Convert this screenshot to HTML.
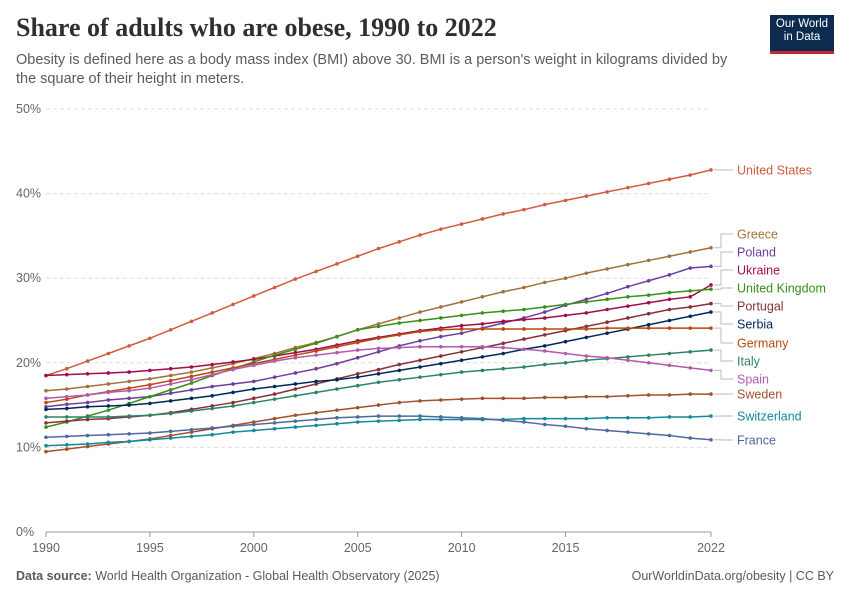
<!DOCTYPE html>
<html><head><meta charset="utf-8">
<style>
body{margin:0;background:#fff;font-family:"Liberation Sans",sans-serif;}
#wrap{position:relative;width:850px;height:600px;overflow:hidden;}
.title{position:absolute;left:16px;top:13px;font-family:"Liberation Serif",serif;font-size:26px;color:#2f2f2f;font-weight:600;}
.sub{position:absolute;left:16px;top:51px;font-size:14.5px;line-height:19px;color:#5b5b5b;width:725px;}
.logo{position:absolute;left:770px;top:15px;width:64px;background:#0d2a4f;border-bottom:3px solid #c0282e;color:#fff;font-size:11.5px;line-height:13px;text-align:center;padding-top:3px;height:33px;}
.foot{position:absolute;top:569px;font-size:12.5px;color:#5b5b5b;}
</style></head><body>
<div id="wrap">
<div class="title">Share of adults who are obese, 1990 to 2022</div>
<div class="sub">Obesity is defined here as a body mass index (BMI) above 30. BMI is a person's weight in kilograms divided by the square of their height in meters.</div>
<div class="logo">Our World<br>in Data</div>
<svg id="chart" width="850" height="600" style="position:absolute;left:0;top:0"></svg>
<div class="foot" style="left:16px"><b>Data source:</b> World Health Organization - Global Health Observatory (2025)</div>
<div class="foot" style="right:16px">OurWorldinData.org/obesity | CC BY</div>
</div>
<script>
const years=[];for(let y=1990;y<=2022;y++)years.push(y);
const yTicks=[0,10,20,30,40,50];
const xTicks=[1990,1995,2000,2005,2010,2015,2022];
const countries=["United States","Greece","Poland","Ukraine","United Kingdom","Portugal","Serbia","Germany","Italy","Spain","Sweden","Switzerland","France"];
const colors=["#d15a3f","#a2723d","#6e3e9e","#a10c4d","#3a8f18","#883039","#00295b","#b8480d","#2c8465","#b15ab0","#a0522d","#138a9b","#51689e"];
const usa=[18.5,19.3,20.2,21.1,22.0,22.9,23.9,24.9,25.9,26.9,27.9,28.9,29.9,30.8,31.7,32.6,33.5,34.3,35.1,35.8,36.4,37.0,37.6,38.1,38.7,39.2,39.7,40.2,40.7,41.2,41.7,42.2,42.8];
const greece=[16.7,16.9,17.2,17.5,17.8,18.1,18.5,18.9,19.4,19.9,20.5,21.1,21.8,22.4,23.1,23.9,24.6,25.3,26.0,26.6,27.2,27.8,28.4,28.9,29.5,30.0,30.6,31.1,31.6,32.1,32.6,33.1,33.6];
const poland=[14.8,15.1,15.3,15.6,15.8,16.0,16.4,16.8,17.2,17.5,17.8,18.3,18.8,19.3,19.9,20.6,21.3,22.0,22.6,23.1,23.5,24.1,24.7,25.3,26.0,26.8,27.5,28.2,29.0,29.7,30.4,31.2,31.4];
const ukraine=[18.5,18.6,18.7,18.8,18.9,19.1,19.3,19.5,19.8,20.1,20.4,20.8,21.2,21.6,22.1,22.6,23.0,23.4,23.8,24.1,24.4,24.6,24.9,25.1,25.3,25.6,25.9,26.3,26.7,27.1,27.5,27.8,29.2];
const uk=[12.4,13.0,13.7,14.4,15.2,16.0,16.8,17.6,18.5,19.3,20.1,20.9,21.6,22.3,23.1,23.9,24.3,24.7,25.0,25.3,25.6,25.9,26.1,26.3,26.6,26.9,27.2,27.5,27.8,28.0,28.3,28.5,28.7];
const portugal=[12.9,13.1,13.3,13.4,13.6,13.8,14.1,14.5,14.9,15.3,15.8,16.3,16.9,17.5,18.1,18.7,19.2,19.8,20.3,20.8,21.3,21.8,22.3,22.8,23.3,23.8,24.3,24.8,25.3,25.8,26.3,26.6,27.0];
const serbia=[14.5,14.6,14.8,14.9,15.0,15.2,15.5,15.8,16.1,16.5,16.9,17.2,17.5,17.8,18.0,18.3,18.7,19.1,19.5,19.9,20.3,20.7,21.1,21.6,22.0,22.5,23.0,23.5,24.0,24.5,25.0,25.5,26.0];
const germany=[15.3,15.7,16.2,16.6,17.0,17.4,17.9,18.4,18.9,19.4,19.9,20.4,20.9,21.4,21.9,22.4,22.9,23.3,23.7,23.9,24.0,24.0,24.0,24.0,24.0,24.0,24.0,24.1,24.1,24.1,24.1,24.1,24.1];
const italy=[13.6,13.6,13.6,13.6,13.7,13.8,14.0,14.3,14.6,14.9,15.3,15.7,16.1,16.5,16.9,17.3,17.7,18.0,18.3,18.6,18.9,19.1,19.3,19.5,19.8,20.0,20.3,20.5,20.7,20.9,21.1,21.3,21.5];
const spain=[15.8,16.0,16.2,16.5,16.7,17.0,17.5,18.0,18.6,19.2,19.7,20.2,20.6,20.9,21.2,21.5,21.7,21.8,21.9,21.9,21.9,21.9,21.8,21.6,21.4,21.1,20.8,20.6,20.3,20.0,19.7,19.4,19.1];
const sweden=[9.5,9.8,10.1,10.4,10.7,11.0,11.4,11.8,12.2,12.6,13.0,13.4,13.8,14.1,14.4,14.7,15.0,15.3,15.5,15.6,15.7,15.8,15.8,15.8,15.9,15.9,16.0,16.0,16.1,16.2,16.2,16.3,16.3];
const switzerland=[10.2,10.3,10.4,10.6,10.7,10.9,11.1,11.3,11.5,11.8,12.0,12.2,12.4,12.6,12.8,13.0,13.1,13.2,13.3,13.3,13.3,13.3,13.3,13.4,13.4,13.4,13.4,13.5,13.5,13.5,13.6,13.6,13.7];
const france=[11.2,11.3,11.4,11.5,11.6,11.7,11.9,12.1,12.3,12.5,12.7,12.9,13.1,13.3,13.5,13.6,13.7,13.7,13.7,13.6,13.5,13.4,13.2,13.0,12.7,12.5,12.2,12.0,11.8,11.6,11.4,11.1,10.9];
const series=[usa,greece,poland,ukraine,uk,portugal,serbia,germany,italy,spain,sweden,switzerland,france];
const labelY=[170,234,252,270,288,306,324,343,361,379,394,416,440];

const NS="http://www.w3.org/2000/svg";
const svg=document.getElementById('chart');
const X0=46,X1=711,Y0=532,Y1=109;
const xs=y=>X0+(y-1990)/(2022-1990)*(X1-X0);
const ys=v=>Y0-v/50*(Y0-Y1);
function mk(t,a,p){const e=document.createElementNS(NS,t);for(const k in a)e.setAttribute(k,a[k]);(p||svg).appendChild(e);return e;}
yTicks.forEach(t=>{
  const g=mk('g',{});
  
  
  mk('line',{x1:X0,x2:X1,y1:ys(t),y2:ys(t),stroke:t===0?'#999':'#ddd','stroke-dasharray':t===0?'':'4,3'},g);
  const tx=mk('text',{x:16,y:ys(t)+4,'font-size':12.5,fill:'#666'},g);tx.textContent=t+'%';
});
xTicks.forEach(t=>{
  const tx=mk('text',{x:xs(t),y:552,'font-size':12.5,fill:'#666','text-anchor':'middle'});
  
  
  tx.textContent=t;
  mk('line',{x1:xs(t),x2:xs(t),y1:532,y2:537,stroke:'#999'});
});
series.forEach((s,i)=>{
  const g=mk('g',{});
  
  
  mk('polyline',{points:s.map((v,j)=>xs(years[j])+','+ys(v)).join(' '),fill:'none',stroke:colors[i],'stroke-width':1.5},g);
  s.forEach((v,j)=>mk('circle',{cx:xs(years[j]),cy:ys(v),r:1.8,fill:colors[i]},g));
  const ey=ys(s[s.length-1]),ly=labelY[i];
  mk('path',{d:`M${X1+3},${ey} H${721} V${ly} H${733}`,fill:'none',stroke:'#bbb','stroke-width':1},g);
  const tx=mk('text',{x:737,y:ly+4.5,'font-size':12.5,fill:colors[i]},g);
  
  
  tx.textContent=countries[i];
});
</script>
</body></html>
